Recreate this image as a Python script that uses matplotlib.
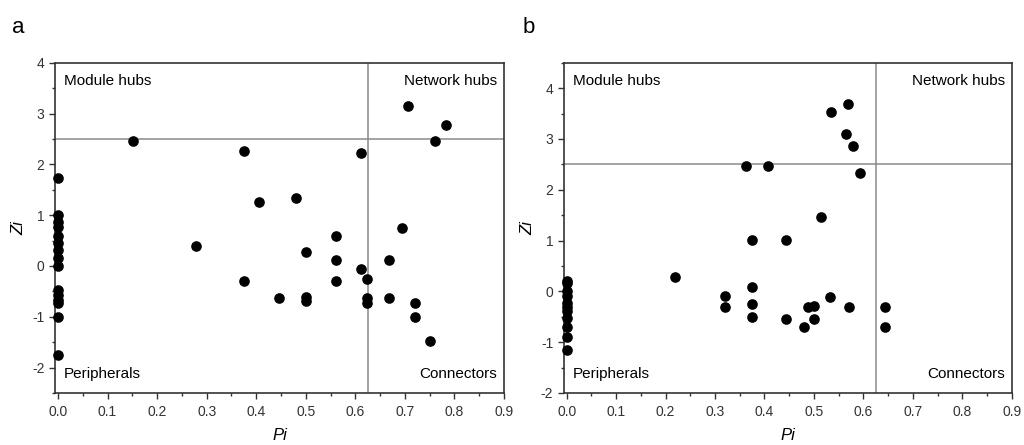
import matplotlib
matplotlib.use("Agg")
from matplotlib import pyplot as plt
from matplotlib.ticker import MultipleLocator

# panel a data
a_pi = [0, 0, 0, 0, 0, 0, 0, 0, 0, 0, 0, 0, 0, 0, 0,
        0.152, 0.375, 0.611, 0.706, 0.783, 0.761, 0.406, 0.480, 0.278, 0.694,
        0.562, 0.500, 0.560, 0.667, 0.611, 0.624, 0.375, 0.560, 0.445, 0.500,
        0.500, 0.624, 0.624, 0.667, 0.721, 0.721, 0.750]
a_zi = [1.74, 1.0, 0.87, 0.77, 0.58, 0.45, 0.31, 0.15, 0.0, -0.47, -0.57, -0.67, -0.73, -1.0, -1.75,
        2.45, 2.26, 2.22, 3.15, 2.77, 2.45, 1.26, 1.33, 0.39, 0.75,
        0.58, 0.28, 0.12, 0.12, -0.07, -0.26, -0.29, -0.29, -0.64, -0.62,
        -0.70, -0.64, -0.73, -0.63, -0.73, -1.00, -1.48]

# panel b data
b_pi = [0, 0, 0, 0, 0, 0, 0, 0, 0, 0, 0,
        0.535, 0.568, 0.565, 0.580, 0.594, 0.363, 0.407, 0.515, 0.375, 0.444,
        0.219, 0.375, 0.320, 0.320, 0.375, 0.375, 0.444, 0.480, 0.489, 0.500,
        0.500, 0.532, 0.571, 0.643, 0.643]
b_zi = [0.21, 0.16, 0.0, -0.09, -0.22, -0.31, -0.39, -0.53, -0.71, -0.90, -1.15,
        3.54, 3.69, 3.09, 2.86, 2.32, 2.46, 2.46, 1.47, 1.02, 1.02,
        0.28, 0.09, -0.09, -0.31, -0.24, -0.51, -0.54, -0.71, -0.31, -0.28,
        -0.54, -0.11, -0.31, -0.31, -0.71]

pi_cut = 0.625
zi_cut = 2.5
xticks = [i / 10 for i in range(10)]

plt.rcParams['font.family'] = ['Liberation Sans', 'DejaVu Sans']
plt.rcParams['axes.unicode_minus'] = False

fig = plt.figure(figsize=(10.24, 4.45), dpi=100)
ax1 = fig.add_axes([0.0537, 0.117, 0.4385, 0.742])
ax2 = fig.add_axes([0.5505, 0.117, 0.4375, 0.742])


def draw(ax, x, y, ymin, ymax):
    ax.axvline(pi_cut, color='#8a8a8a', lw=1.1, zorder=1)
    ax.axhline(zi_cut, color='#8a8a8a', lw=1.1, zorder=1)
    ax.scatter(x, y, s=44, color='black', zorder=3, clip_on=False)
    ax.set_xlim(-0.006, 0.9)
    ax.set_ylim(ymin, ymax)
    ax.set_xticks(xticks)
    ax.set_xticklabels([f'{t:.1f}' for t in xticks])
    ax.xaxis.set_minor_locator(MultipleLocator(0.05))
    ax.yaxis.set_major_locator(MultipleLocator(1))
    ax.yaxis.set_minor_locator(MultipleLocator(0.5))
    ax.tick_params(which='major', length=4, width=1, direction='out', labelsize=10, colors='#333333')
    ax.tick_params(which='minor', length=2.5, width=1, direction='out', colors='#333333')
    ax.tick_params(axis='x', pad=5)
    for sp in ax.spines.values():
        sp.set_color('#333333')
        sp.set_linewidth(1.2)
    ax.set_xlabel('Pi', style='italic', fontsize=12, labelpad=6)
    ax.set_ylabel('Zi', style='italic', fontsize=12, labelpad=4)
    ax.text(0.02, 0.965, 'Module hubs', transform=ax.transAxes, fontsize=11, va='top', ha='left')
    ax.text(0.985, 0.965, 'Network hubs', transform=ax.transAxes, fontsize=11, va='top', ha='right')
    ax.text(0.02, 0.035, 'Peripherals', transform=ax.transAxes, fontsize=11, va='bottom', ha='left')
    ax.text(0.985, 0.035, 'Connectors', transform=ax.transAxes, fontsize=11, va='bottom', ha='right')


draw(ax1, a_pi, a_zi, -2.5, 4)
draw(ax2, b_pi, b_zi, -2, 4.5)

fig.text(0.012, 0.925, 'a', fontsize=16)
fig.text(0.51, 0.925, 'b', fontsize=16)

fig.savefig('out.png', dpi=100)
